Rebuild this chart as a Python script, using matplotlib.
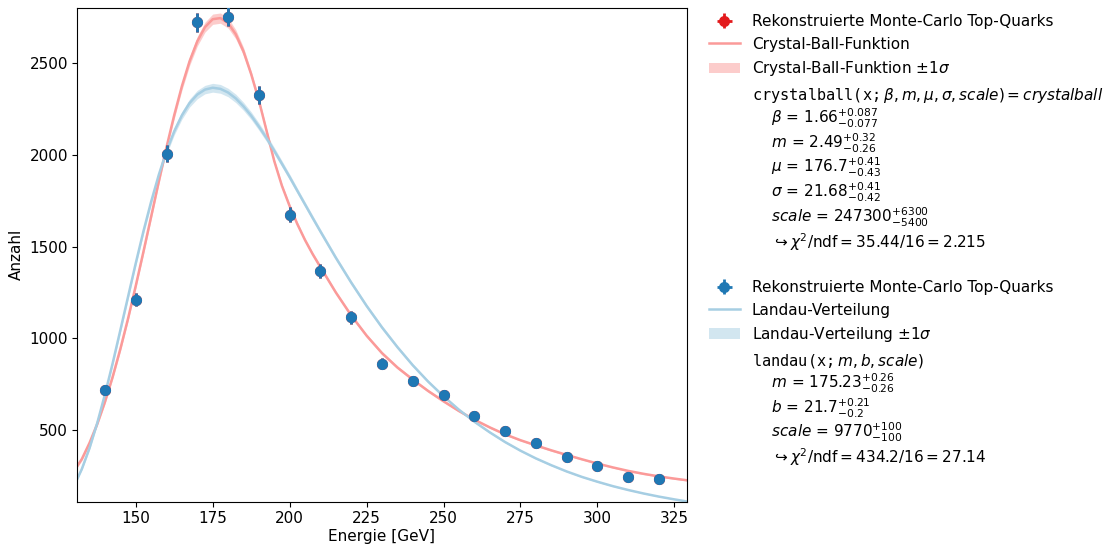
import numpy as np
import matplotlib
matplotlib.use("Agg")
import matplotlib.pyplot as plt
from matplotlib.patches import Patch, Rectangle

# Messpunkte (Monte-Carlo Top-Quarks)
energie = [140, 150, 160, 170, 180, 190, 200, 210, 220, 230,
           240, 250, 260, 270, 280, 290, 300, 310, 320]
anzahl = [720, 1210, 2005, 2720, 2750, 2325, 1672, 1366, 1114, 863,
          769, 691, 576, 495, 433, 354, 305, 246, 237]

# Fit-Kurven
x_fit = [130, 132.5, 135, 137.5, 140, 142.5, 145, 147.5,
         150, 152.5, 155, 157.5, 160, 162.5, 165, 167.5, 170, 172.5, 175, 177.5,
         180, 182.5, 185, 187.5, 190, 192.5, 195, 197.5, 200, 202.5, 205, 207.5, 210,
         215, 220, 225, 230, 235, 240, 245, 250, 255, 260, 265, 270, 275, 280,
         285, 290, 295, 300, 305, 310, 315, 320, 325, 330]
crystalball_y = [280, 344, 432, 535, 655, 791, 943, 1108,
                 1286, 1472, 1663, 1855, 2041, 2215, 2373, 2509, 2617, 2694, 2737, 2743,
                 2716, 2655, 2562, 2438, 2295, 2130, 1965, 1830, 1720, 1622, 1535, 1458, 1388,
                 1250, 1125, 1015, 920, 842, 776, 714, 658, 605, 558, 516, 478, 446, 418,
                 391, 366, 342, 319, 298, 279, 263, 249, 237, 226]
crystalball_err = [8, 9, 10, 11, 12, 13, 14, 15,
                   15, 16, 17, 18, 19, 20, 22, 24, 26, 27, 28, 28,
                   27, 25, 22, 18, 15, 13, 12, 12, 12, 12, 11, 11, 11,
                   10, 10, 9, 9, 8, 8, 7, 7, 6, 6, 6, 5, 5, 5,
                   5, 5, 4, 4, 4, 4, 4, 4, 4, 4]
landau_y = [199, 290, 404, 540, 696, 865, 1045, 1227,
            1409, 1583, 1744, 1891, 2019, 2127, 2214, 2281, 2327, 2354, 2364, 2358,
            2338, 2306, 2263, 2212, 2153, 2090, 2021, 1950, 1878, 1803, 1729, 1655, 1582,
            1439, 1304, 1177, 1060, 953, 854, 765, 685, 612, 547, 489, 436, 389, 347,
            310, 276, 246, 220, 196, 175, 156, 139, 124, 110]
landau_err = [6, 7, 9, 10, 12, 13, 14, 15,
              15, 16, 17, 18, 19, 20, 21, 22, 23, 23, 24, 24,
              23, 23, 22, 21, 20, 19, 18, 17, 16, 15, 14, 14, 13,
              12, 11, 10, 10, 9, 8, 7, 7, 6, 6, 5, 5, 4, 4,
              4, 3, 3, 3, 3, 2, 2, 2, 2, 2]

cb_labels = [
    r"$\mathtt{crystalball(x;}\beta, m, \mu, \sigma, scale) = crystalball$",
    r"    $\beta$ = $1.66^{+0.087}_{-0.077}$",
    r"    $m$ = $2.49^{+0.32}_{-0.26}$",
    r"    $\mu$ = $176.7^{+0.41}_{-0.43}$",
    r"    $\sigma$ = $21.68^{+0.41}_{-0.42}$",
    r"    $scale$ = $247300^{+6300}_{-5400}$",
    r"    $\hookrightarrow\chi^2/\mathrm{ndf} = 35.44/16 = 2.215$",
]
landau_labels = [
    r"$\mathtt{landau(x;}m, b, scale)$",
    r"    $m$ = $175.23^{+0.26}_{-0.26}$",
    r"    $b$ = $21.7^{+0.21}_{-0.2}$",
    r"    $scale$ = $9770^{+100}_{-100}$",
    r"    $\hookrightarrow\chi^2/\mathrm{ndf} = 434.2/16 = 27.14$",
]

plt.rcParams["font.size"] = 11

rot_punkt, rot_linie = "#e31a1c", "#fb9a99"
blau_punkt, blau_linie = "#1f78b4", "#a6cee3"

fig = plt.figure(figsize=(11.07, 5.45), dpi=100)
ax = fig.add_axes([0.0698, 0.079, 0.5505, 0.907])

x_fit = np.array(x_fit)
yerr = np.sqrt(anzahl)

# Crystal-Ball
pts_cb = ax.errorbar(energie, anzahl, yerr=yerr, xerr=1, fmt="o", color=rot_punkt,
                     markersize=7, elinewidth=2, zorder=3)
line_cb, = ax.plot(x_fit, crystalball_y, color=rot_linie, lw=1.8, zorder=2)
cb = np.array(crystalball_y)
ax.fill_between(x_fit, cb - crystalball_err, cb + crystalball_err,
                color=rot_linie, alpha=0.5, lw=0, zorder=1)

# Landau
pts_la = ax.errorbar(energie, anzahl, yerr=yerr, xerr=1, fmt="o", color=blau_punkt,
                     markersize=7, elinewidth=2, zorder=4)
line_la, = ax.plot(x_fit, landau_y, color=blau_linie, lw=1.8, zorder=2)
la = np.array(landau_y)
ax.fill_between(x_fit, la - landau_err, la + landau_err,
                color=blau_linie, alpha=0.5, lw=0, zorder=1)

ax.set_xlim(131, 329)
ax.set_ylim(110, 2800)
ax.tick_params(pad=3)
ax.set_xlabel("Energie [GeV]", labelpad=2)
ax.set_ylabel("Anzahl")

leer = Rectangle((0, 0), 1, 1, visible=False)

h1 = [pts_cb, line_cb, Patch(color=rot_linie, alpha=0.5, lw=0), leer]
l1 = ["Rekonstruierte Monte-Carlo Top-Quarks", "Crystal-Ball-Funktion",
      r"Crystal-Ball-Funktion $\pm 1\sigma$", "\n".join(cb_labels)]
leg1 = ax.legend(h1, l1, loc="upper left", bbox_to_anchor=(1.014, 1.015),
                 frameon=False)
leg1.get_texts()[-1].set_linespacing(1.1)
ax.add_artist(leg1)

h2 = [pts_la, line_la, Patch(color=blau_linie, alpha=0.5, lw=0), leer]
l2 = ["Rekonstruierte Monte-Carlo Top-Quarks", "Landau-Verteilung",
      r"Landau-Verteilung $\pm 1\sigma$", "\n".join(landau_labels)]
leg2 = ax.legend(h2, l2, loc="upper left", bbox_to_anchor=(1.014, 0.477),
                 frameon=False)
leg2.get_texts()[-1].set_linespacing(1.1)

fig.savefig("out.png", dpi=100)
